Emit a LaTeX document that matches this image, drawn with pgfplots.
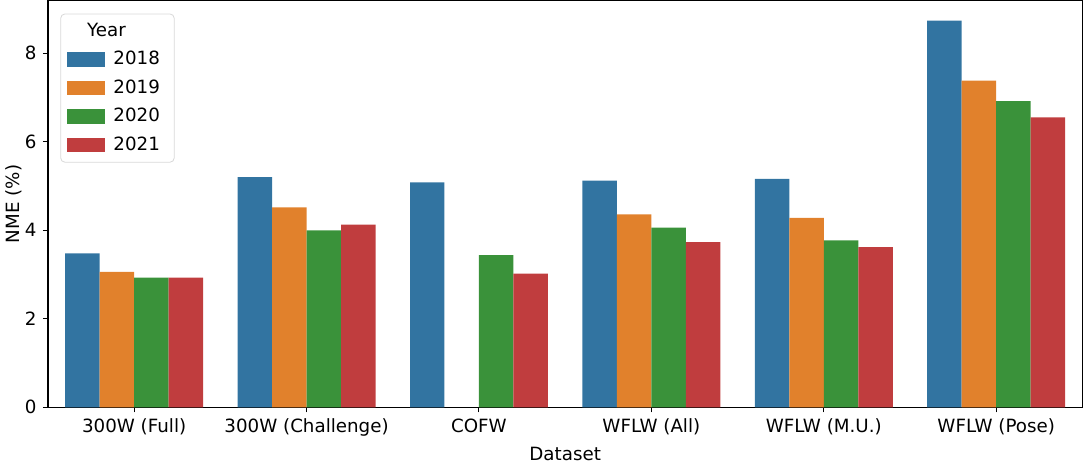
\documentclass[border=0pt]{standalone}
\usepackage{pgfplots}
\pgfplotsset{compat=1.18}
\usepackage{fontspec}
\setmainfont{DejaVu Sans}
\definecolor{sb1}{HTML}{3274A1}
\definecolor{sb2}{HTML}{E1812C}
\definecolor{sb3}{HTML}{3A923A}
\definecolor{sb4}{HTML}{C03D3E}
\begin{document}
\fontsize{9}{11}\selectfont
\begin{tikzpicture}
\begin{axis}[
  scale only axis,
  width=510pt, height=200.5pt,
  xmin=-0.5, xmax=5.5, ymin=0, ymax=9.19,
  xtick={0,1,2,3,4,5},
  xticklabels={300W (Full),300W (Challenge),COFW,WFLW (All),WFLW (M.U.),WFLW (Pose)},
  ytick={0,2,4,6,8},
  xtick pos=bottom, ytick pos=left,
  tick align=outside, major tick length=2.5pt,
  tick style={black, line width=0.5pt},
  axis line style={line width=0.6pt},
  /pgf/number format/assume math mode=true,
  ticklabel style={font=\fontsize{9}{11}\selectfont},
  label style={font=\fontsize{9}{11}\selectfont},
  xlabel={Dataset}, ylabel={NME (\%)},
  xlabel style={yshift=1pt},
  ylabel style={yshift=-5pt},
  ybar, bar width=0.2,
  legend style={at={(0.012,0.968)}, anchor=north west, draw=black!15, rounded corners=2pt,
    font=\fontsize{9}{11}\selectfont, row sep=2pt, inner xsep=3pt, inner ysep=2.5pt,
    nodes={inner xsep=4pt}},
  legend cell align=left,
  legend image code/.code={\fill[#1, sharp corners] (0pt,-3.5pt) rectangle (19pt,3.5pt);},
]
\addlegendimage{empty legend}
\addlegendentry{\hspace*{-13pt}Year}
\addplot[fill=sb1, draw=none, bar shift=-0.3] coordinates {(0,3.48) (1,5.20) (2,5.08) (3,5.12) (4,5.16) (5,8.74)};
\addlegendentry{2018}
\addplot[fill=sb2, draw=none, bar shift=-0.1] coordinates {(0,3.06) (1,4.52) (3,4.36) (4,4.28) (5,7.38)};
\addlegendentry{2019}
\addplot[fill=sb3, draw=none, bar shift=0.1] coordinates {(0,2.93) (1,4.00) (2,3.44) (3,4.06) (4,3.77) (5,6.92)};
\addlegendentry{2020}
\addplot[fill=sb4, draw=none, bar shift=0.3] coordinates {(0,2.93) (1,4.13) (2,3.02) (3,3.73) (4,3.62) (5,6.55)};
\addlegendentry{2021}
\end{axis}
\end{tikzpicture}
\end{document}
